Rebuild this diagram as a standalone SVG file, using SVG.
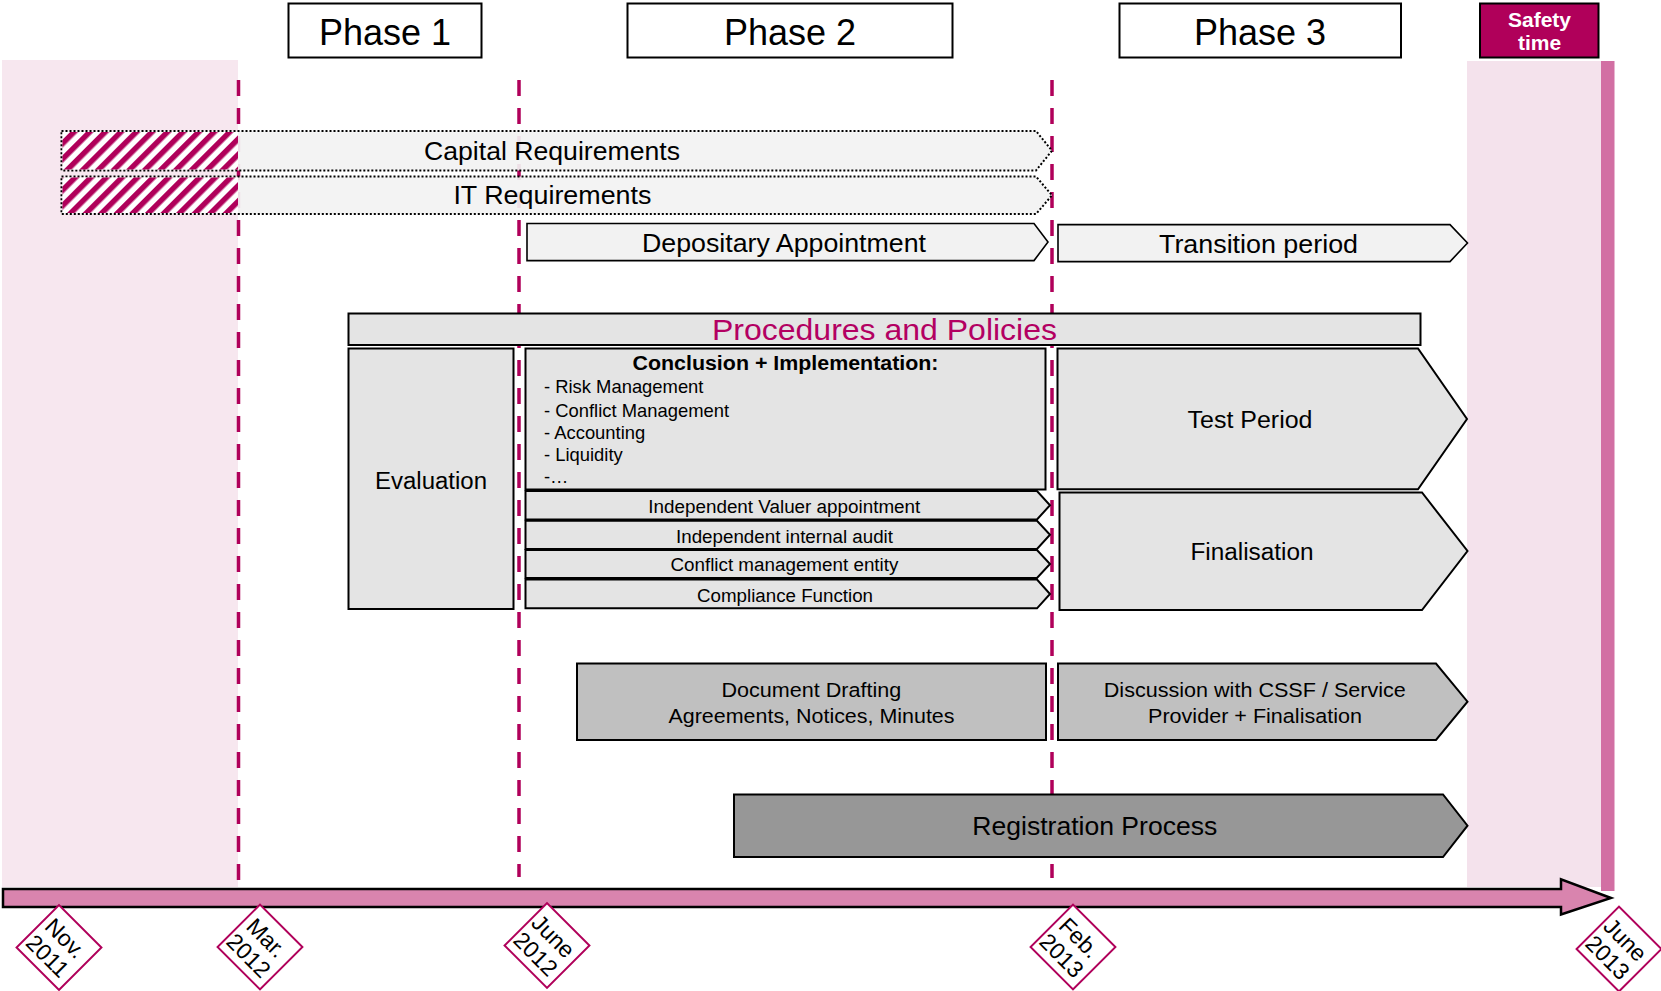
<svg xmlns="http://www.w3.org/2000/svg" width="1661" height="991" viewBox="0 0 1661 991">
  <defs>
    <style>
      text { font-family: "Liberation Sans", Arial, sans-serif; fill: #000; }
      .ph { font-size: 36px; text-anchor: middle; }
      .lbl { font-size: 25px; text-anchor: middle; }
      .mid { font-size: 23px; text-anchor: middle; }
      .sm { font-size: 20.5px; text-anchor: middle; }
      .sub { font-size: 18px; text-anchor: middle; }
      .item { font-size: 18.4px; }
      .date { font-size: 23px; text-anchor: middle; }
      .box { fill: #fff; stroke: #000; stroke-width: 2; }
      .req { fill: #f2f2f2; fill-opacity: 0.92; stroke: #000; stroke-width: 2; stroke-dasharray: 2 2; }
      .light { fill: #f2f2f2; stroke: #000; stroke-width: 1.6; }
      .grey { fill: #e4e4e4; stroke: #000; stroke-width: 2; }
      .mgrey { fill: #c0c0c0; stroke: #000; stroke-width: 2; }
      .dgrey { fill: #979797; stroke: #000; stroke-width: 2; }
      .milestone { stroke: #b0005a; stroke-width: 3.5; stroke-dasharray: 16 12; fill: none; }
      .diamond { fill: #fff; stroke: #b0005a; stroke-width: 2; }
    </style>
    <pattern id="hatch" width="11" height="11" patternUnits="userSpaceOnUse" patternTransform="rotate(45)">
      <rect width="11" height="11" fill="#fff"/>
      <rect width="5.5" height="11" fill="#b0005a"/>
    </pattern>
  </defs>

  <rect width="1661" height="991" fill="#fff"/>

  <!-- shaded periods -->
  <g id="bands">
    <rect x="2" y="60" width="236" height="827" fill="#f7e7ef"/>
    <rect x="1467" y="61" width="134" height="826" fill="#f4e2ec"/>
    <rect x="1601" y="61" width="13.5" height="830" fill="#d26fa3"/>
  </g>

  <!-- milestone markers -->
  <g id="connectors">
    <line class="milestone" x1="238.5" y1="80" x2="238.5" y2="882"/>
    <line class="milestone" x1="519" y1="80" x2="519" y2="877"/>
    <line class="milestone" x1="1052" y1="80" x2="1052" y2="878"/>
  </g>

  <!-- phase headers -->
  <g id="phase1">
    <rect class="box" x="288.5" y="3.5" width="193" height="54"/>
    <text class="ph" x="385" y="45">Phase 1</text>
  </g>
  <g id="phase2">
    <rect class="box" x="627.5" y="3.5" width="325" height="54"/>
    <text class="ph" x="790" y="45">Phase 2</text>
  </g>
  <g id="phase3">
    <rect class="box" x="1119.5" y="3.5" width="281.5" height="54"/>
    <text class="ph" x="1260" y="45">Phase 3</text>
  </g>
  <g id="safety">
    <rect x="1480" y="3.5" width="118.5" height="54" fill="#b0005a" stroke="#000" stroke-width="2"/>
    <text x="1539.5" y="26.5" font-size="21" font-weight="bold" text-anchor="middle" style="fill:#fff">Safety</text>
    <text x="1539.5" y="50" font-size="21" font-weight="bold" text-anchor="middle" style="fill:#fff">time</text>
  </g>

  <!-- requirements -->
  <g id="capital">
    <polygon class="req" points="61.5,131 1036,131 1052,150.7 1036,170.5 61.5,170.5"/>
    <rect x="62.5" y="132" width="175.5" height="37.5" fill="url(#hatch)"/>
    <text class="lbl" x="552" y="160" textLength="256" lengthAdjust="spacingAndGlyphs">Capital Requirements</text>
  </g>
  <g id="it">
    <polygon class="req" points="61.5,176.5 1036,176.5 1052,195.3 1036,214 61.5,214"/>
    <rect x="62.5" y="177.5" width="175.5" height="35.5" fill="url(#hatch)"/>
    <text class="lbl" x="552.4" y="204" textLength="198" lengthAdjust="spacingAndGlyphs">IT Requirements</text>
  </g>
  <g id="depositary">
    <polygon class="light" points="527,223.5 1034,223.5 1048,242 1034,260.6 527,260.6"/>
    <text class="lbl" x="784" y="251.5" textLength="284" lengthAdjust="spacingAndGlyphs">Depositary Appointment</text>
  </g>
  <g id="transition">
    <polygon class="light" points="1058,224.6 1450,224.6 1467.5,243 1450,261.6 1058,261.6"/>
    <text class="lbl" x="1258.5" y="252.5" textLength="199" lengthAdjust="spacingAndGlyphs">Transition period</text>
  </g>

  <!-- procedures and policies -->
  <g id="procedures">
    <rect class="grey" x="348.5" y="313.5" width="1072" height="31.5"/>
    <text x="884.5" y="340" font-size="30" text-anchor="middle" textLength="345" lengthAdjust="spacingAndGlyphs" style="fill:#b30062">Procedures and Policies</text>
  </g>
  <g id="evaluation">
    <rect class="grey" x="348.5" y="348.5" width="165" height="260.5"/>
    <text class="mid" x="431" y="488.5" textLength="112" lengthAdjust="spacingAndGlyphs">Evaluation</text>
  </g>
  <g id="conclusion">
    <rect class="grey" x="525.5" y="348.5" width="520" height="141"/>
    <text x="785.5" y="370" font-size="20" font-weight="bold" text-anchor="middle" textLength="306" lengthAdjust="spacingAndGlyphs">Conclusion + Implementation:</text>
    <text class="item" x="544" y="393.3">- Risk Management</text>
    <text class="item" x="544" y="416.7">- Conflict Management</text>
    <text class="item" x="544" y="438.7">- Accounting</text>
    <text class="item" x="544" y="460.8">- Liquidity</text>
    <text class="item" x="544" y="483.3">-…</text>
  </g>
  <g id="valuer">
    <polygon class="grey" points="525.5,491 1037,491 1050,505.2 1037,519.5 525.5,519.5"/>
    <text class="sub" x="784.3" y="512.8" textLength="272" lengthAdjust="spacingAndGlyphs">Independent Valuer appointment</text>
  </g>
  <g id="audit">
    <polygon class="grey" points="525.5,520.7 1037,520.7 1050,534.8 1037,549 525.5,549"/>
    <text class="sub" x="784.5" y="543" textLength="217" lengthAdjust="spacingAndGlyphs">Independent internal audit</text>
  </g>
  <g id="conflict">
    <polygon class="grey" points="525.5,550 1037,550 1050,564 1037,578 525.5,578"/>
    <text class="sub" x="784.4" y="571" textLength="228" lengthAdjust="spacingAndGlyphs">Conflict management entity</text>
  </g>
  <g id="compliance">
    <polygon class="grey" points="525.5,579.5 1037,579.5 1050,594 1037,608.3 525.5,608.3"/>
    <text class="sub" x="785" y="601.6" textLength="176" lengthAdjust="spacingAndGlyphs">Compliance Function</text>
  </g>
  <g id="test">
    <polygon class="grey" points="1057.5,348.5 1418,348.5 1467,419 1418,489.3 1057.5,489.3"/>
    <text class="mid" x="1250" y="427.8" textLength="125" lengthAdjust="spacingAndGlyphs">Test Period</text>
  </g>
  <g id="finalisation">
    <polygon class="grey" points="1059.5,492.5 1422,492.5 1467.5,551 1422,610 1059.5,610"/>
    <text class="mid" x="1252" y="559.8" textLength="123" lengthAdjust="spacingAndGlyphs">Finalisation</text>
  </g>

  <!-- documentation -->
  <g id="drafting">
    <rect class="mgrey" x="577" y="663.5" width="469" height="76.5"/>
    <text class="sm" x="811.4" y="697" textLength="180" lengthAdjust="spacingAndGlyphs">Document Drafting</text>
    <text class="sm" x="811.5" y="722.5" textLength="286" lengthAdjust="spacingAndGlyphs">Agreements, Notices, Minutes</text>
  </g>
  <g id="discussion">
    <polygon class="mgrey" points="1058,663.5 1436,663.5 1467.5,701.7 1436,740 1058,740"/>
    <text class="sm" x="1254.8" y="697" textLength="302" lengthAdjust="spacingAndGlyphs">Discussion with CSSF / Service</text>
    <text class="sm" x="1255" y="722.5" textLength="214" lengthAdjust="spacingAndGlyphs">Provider + Finalisation</text>
  </g>
  <g id="registration">
    <polygon class="dgrey" points="734,794.5 1443,794.5 1467.5,825.7 1443,857 734,857"/>
    <text class="lbl" x="1094.8" y="835" textLength="245" lengthAdjust="spacingAndGlyphs">Registration Process</text>
  </g>

  <!-- time axis -->
  <g id="timeline">
    <polygon points="3,889 1561,889 1561,879.3 1611,898 1561,914.5 1561,907 3,907" fill="#d984ae" stroke="#000" stroke-width="2.5" stroke-linejoin="miter"/>
  </g>

  <!-- dates -->
  <g id="date-nov-2011" transform="translate(59,947.5) rotate(45)">
    <rect class="diamond" x="-30" y="-30" width="60" height="60"/>
    <text class="date" x="-2" y="-3">Nov.</text>
    <text class="date" x="-2" y="22">2011</text>
  </g>
  <g id="date-mar-2012" transform="translate(260,947) rotate(45)">
    <rect class="diamond" x="-30" y="-30" width="60" height="60"/>
    <text class="date" x="-2" y="-3">Mar.</text>
    <text class="date" x="-2" y="22">2012</text>
  </g>
  <g id="date-june-2012" transform="translate(547,945.5) rotate(45)">
    <rect class="diamond" x="-30" y="-30" width="60" height="60"/>
    <text class="date" x="-2" y="-3">June</text>
    <text class="date" x="-2" y="22">2012</text>
  </g>
  <g id="date-feb-2013" transform="translate(1073,947) rotate(45)">
    <rect class="diamond" x="-30" y="-30" width="60" height="60"/>
    <text class="date" x="-2" y="-3">Feb.</text>
    <text class="date" x="-2" y="22">2013</text>
  </g>
  <g id="date-june-2013" transform="translate(1619,949) rotate(45)">
    <rect class="diamond" x="-30" y="-30" width="60" height="60"/>
    <text class="date" x="-2" y="-3">June</text>
    <text class="date" x="-2" y="22">2013</text>
  </g>
</svg>
